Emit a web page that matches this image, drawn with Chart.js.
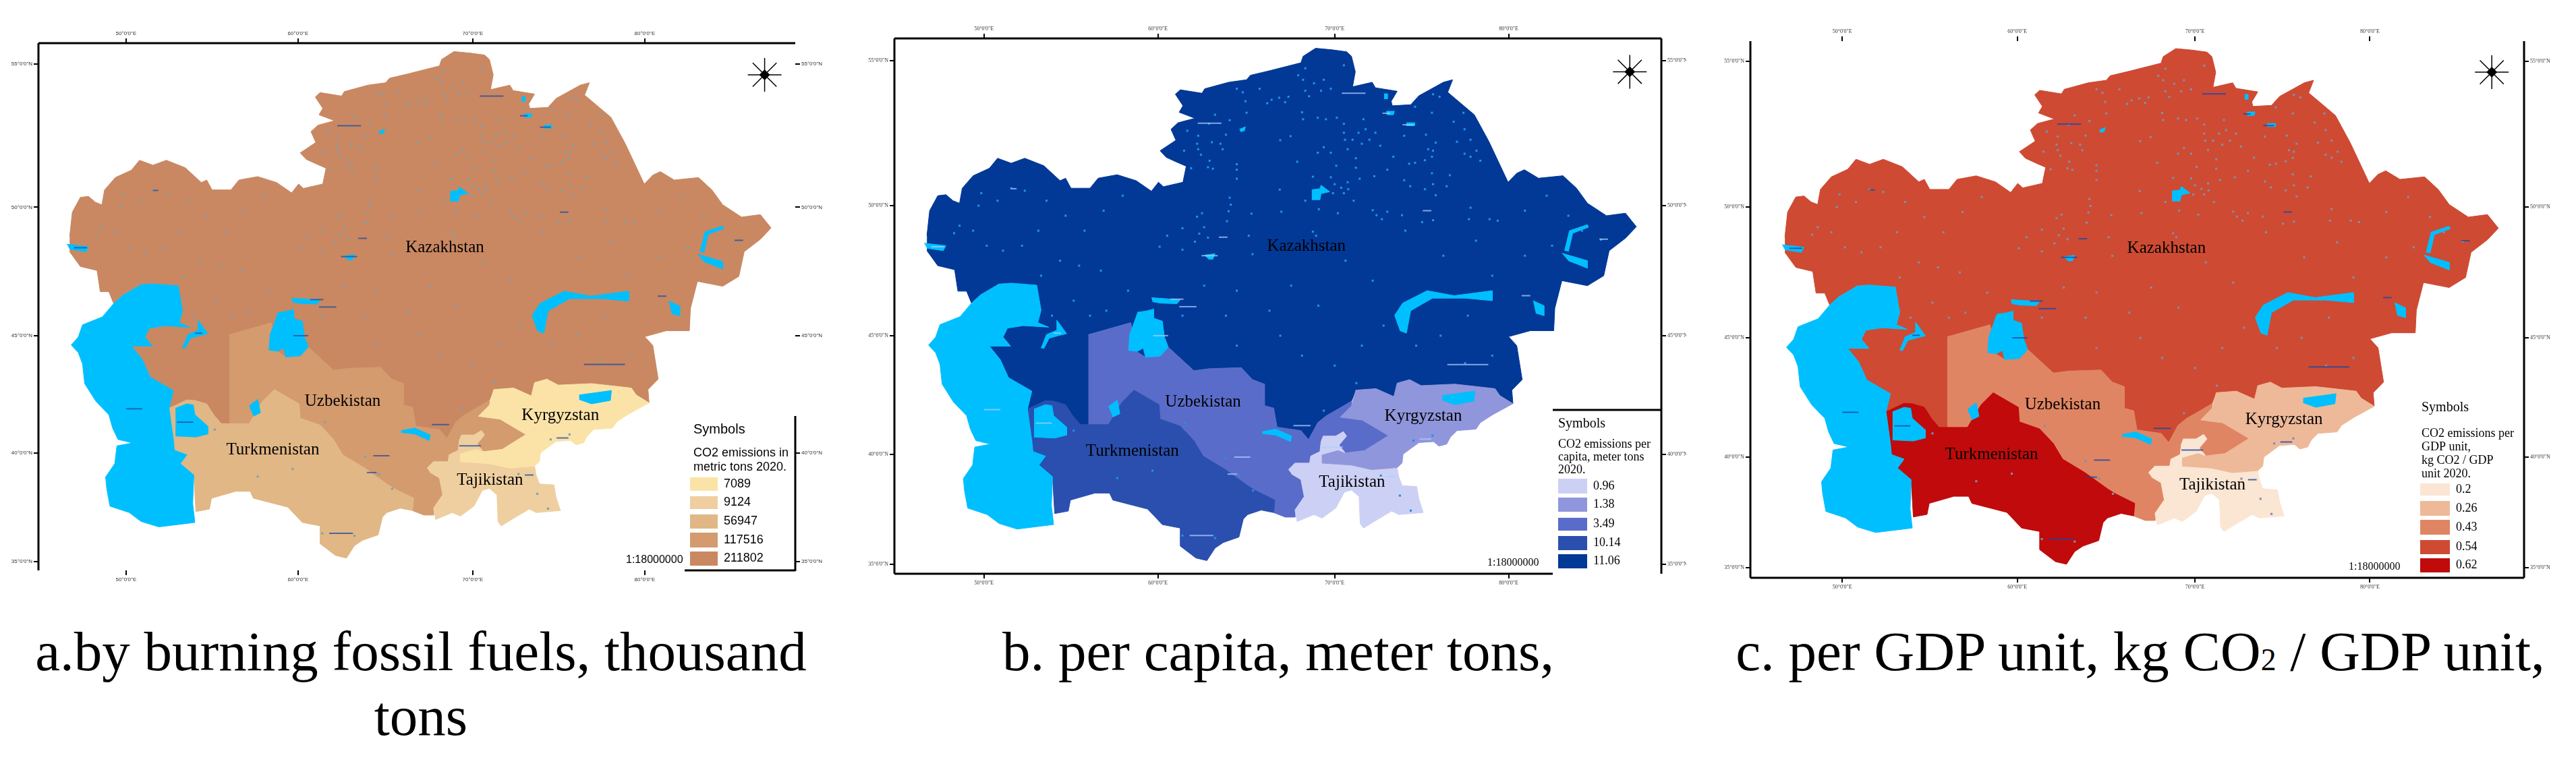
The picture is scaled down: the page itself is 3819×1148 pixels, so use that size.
<!DOCTYPE html>
<html>
<head>
<meta charset="utf-8">
<title>CO2 emissions, Central Asia</title>
<script src="https://cdn.jsdelivr.net/npm/chart.js@4"></script>
<style>
  html, body { margin: 0; padding: 0; background: #fff; }
  body { width: 3819px; height: 1148px; position: relative; overflow: hidden; }
  canvas { position: absolute; top: 0; filter: blur(0.7px); }
  .cap { position: absolute; text-align: center; color: #000; font-family: "Liberation Serif", serif; font-size: 83px; line-height: 96px; white-space: nowrap; }
  .cap span { font-size: 55%; }
</style>
</head>
<body>
<canvas id="mapA" width="1250" height="900" style="left:0"></canvas>
<canvas id="mapB" width="1250" height="900" style="left:1250px"></canvas>
<canvas id="mapC" width="1319" height="900" style="left:2500px"></canvas>
<div class="cap" style="left:24px;width:1200px;top:918px">a.by burning fossil fuels, thousand<br>tons</div>
<div class="cap" style="left:1295px;width:1200px;top:918px">b. per capita, meter tons,</div>
<div class="cap" style="left:2573px;width:1200px;top:918px">c. per GDP unit, kg CO<span>2</span> / GDP unit,</div>
<script>
// values per country, same order as the outlines below
var countries = ['Kazakhstan', 'Uzbekistan', 'Turkmenistan', 'Tajikistan', 'Kyrgyzstan'];
var fossilValues = [211802, 117516, 56947, 9124, 7089];
var capitaValues = [11.06, 3.49, 10.14, 0.96, 1.38];
var gdpValues = [0.54, 0.43, 0.62, 0.2, 0.26];

// graticule, in map units of the projection
var lonTicks = [235, 555, 880, 1200];
var lonLabels = ['50°0\'0"E', '60°0\'0"E', '70°0\'0"E', '80°0\'0"E'];
var latTicks = [130, 420, 680, 917, 1137];
var latLabels = ['55°0\'0"N', '50°0\'0"N', '45°0\'0"N', '40°0\'0"N', '35°0\'0"N'];

// outlines, map units (y grows southwards)
var kazakhstan = [[130,480],[135,430],[150,400],[165,398],[178,410],[190,415],[195,385],[215,360],[245,345],[260,325],[285,335],[310,325],[345,340],[375,370],[385,365],[395,385],[430,385],[445,365],[480,358],[515,370],[543,391],[556,373],[565,382],[601,373],[607,341],[588,332],[570,323],[559,310],[588,289],[579,267],[592,254],[623,245],[594,233],[601,220],[587,197],[596,188],[636,195],[641,186],[685,173],[718,168],[725,159],[760,150],[818,134],[822,121],[845,105],[875,108],[902,112],[911,121],[918,152],[913,182],[949,173],[955,184],[995,191],[984,211],[986,220],[1020,218],[1035,200],[1080,173],[1097,168],[1088,193],[1137,238],[1164,292],[1199,373],[1215,355],[1229,348],[1255,365],[1300,360],[1325,385],[1345,415],[1380,440],[1415,435],[1435,462],[1415,485],[1385,510],[1375,560],[1345,580],[1298,570],[1285,625],[1283,670],[1240,670],[1200,682],[1215,700],[1225,768],[1206,789],[1208,816],[1184,800],[1175,786],[1101,777],[1039,780],[1018,768],[995,775],[989,802],[956,786],[919,789],[911,811],[886,827],[865,840],[849,854],[832,888],[818,870],[774,863],[768,825],[751,820],[751,777],[729,768],[708,744],[650,746],[621,750],[574,703],[559,721],[532,723],[516,712],[505,654],[427,678],[427,858],[412,858],[398,840],[385,818],[363,811],[348,810],[315,827],[323,791],[280,764],[265,728],[245,701],[284,701],[270,683],[278,665],[307,660],[354,663],[334,654],[340,629],[332,579],[284,575],[261,577],[230,597],[212,615],[203,591],[187,591],[181,548],[150,540],[130,510]];
var uzbekistan = [[427,678],[505,654],[516,712],[532,723],[559,721],[574,703],[621,750],[650,746],[708,744],[729,768],[751,777],[751,820],[768,825],[774,863],[818,870],[832,888],[849,854],[865,840],[886,827],[911,811],[911,820],[890,843],[931,849],[979,880],[935,910],[898,915],[888,899],[902,881],[896,872],[882,881],[859,881],[855,892],[853,912],[836,921],[834,935],[807,935],[795,948],[801,957],[818,968],[824,1002],[807,1029],[807,1043],[789,1043],[768,1034],[770,1009],[733,989],[720,980],[679,948],[638,921],[621,890],[596,861],[559,847],[557,818],[511,789],[489,813],[464,858],[427,858]];
var turkmenistan = [[323,890],[315,827],[348,810],[363,811],[385,818],[398,840],[412,858],[427,858],[464,858],[489,813],[511,789],[557,818],[559,847],[596,861],[621,890],[638,921],[679,948],[720,980],[733,989],[770,1009],[768,1034],[745,1029],[720,1038],[712,1047],[704,1083],[675,1094],[660,1105],[645,1130],[625,1125],[596,1101],[596,1065],[563,1058],[536,1027],[472,1009],[466,995],[439,995],[394,1009],[390,1031],[365,1036],[361,962],[336,939],[348,921],[325,912]];
var tajikistan = [[795,948],[807,935],[834,935],[836,921],[853,912],[855,892],[859,881],[882,881],[896,872],[902,881],[888,899],[900,915],[857,919],[857,935],[911,939],[948,948],[995,944],[998,962],[1004,980],[1031,982],[1035,1007],[1043,1034],[998,1038],[985,1031],[960,1047],[933,1065],[927,1056],[925,1002],[911,989],[898,993],[882,1025],[857,1045],[842,1038],[811,1052],[807,1029],[824,1002],[818,968],[801,957]];
var kyrgyzstan = [[911,820],[919,789],[956,786],[989,802],[995,775],[1018,768],[1039,780],[1101,777],[1175,786],[1184,800],[1208,816],[1171,838],[1148,854],[1140,867],[1105,870],[1093,883],[1086,897],[1072,901],[1062,892],[1035,894],[1006,917],[1004,935],[995,944],[948,948],[911,939],[857,935],[857,919],[886,910],[898,915],[935,910],[979,880],[931,849],[890,843]];

// water
var caspian = [[261,577],[284,575],[332,579],[340,629],[334,654],[354,663],[307,660],[278,665],[270,683],[284,701],[245,701],[265,728],[280,764],[323,791],[315,827],[323,890],[325,912],[348,921],[336,939],[361,962],[359,1020],[363,1058],[296,1067],[263,1056],[241,1038],[205,1025],[199,989],[197,966],[214,939],[218,903],[247,897],[220,890],[210,867],[203,840],[179,813],[158,777],[154,737],[146,714],[133,699],[146,683],[154,658],[191,642],[212,615],[230,597]];
var karaBogaz = [[327,827],[348,818],[360,820],[363,840],[387,863],[387,879],[365,885],[327,883]];
var aral = [[501,710],[503,678],[518,633],[532,631],[547,627],[547,645],[563,651],[567,683],[574,703],[559,721],[532,723],[528,705],[516,712]];
var balkhash = [[990,640],[1005,615],[1050,590],[1100,600],[1170,590],[1170,610],[1120,605],[1060,605],[1020,630],[1012,675],[1000,670]];
var zaysan = [[1298,515],[1345,530],[1345,545],[1310,530]];
var irtysh = [[1303,510],[1312,470],[1345,458],[1347,463],[1318,475],[1310,512]];
var alakol = [[1245,610],[1265,620],[1265,640],[1250,635]];
var issykKul = [[1078,800],[1138,791],[1136,811],[1101,818],[1078,809]];
var tengiz = [[838,388],[853,386],[855,379],[871,392],[855,396],[853,408],[838,408]];
var sarygamysh = [[464,822],[480,809],[485,836],[472,843]];
var aydar = [[747,872],[772,867],[801,881],[799,892],[772,879],[747,876]];
var mangyshlakLake = [[340,705],[350,678],[369,669],[369,649],[387,676],[372,680],[355,685],[345,706]];
var uralMouth = [[125,495],[165,500],[160,510],[130,505]];
var northLakeA = [[975,231],[990,231],[988,238],[976,238]];
var northLakeB = [[1012,254],[1027,254],[1027,260],[1012,260]];
var northLakeC = [[971,196],[977,196],[977,206],[971,206]];
var northLakeD = [[705,267],[716,262],[714,270],[707,272]];
var midLake = [[640,519],[660,516],[656,527],[648,527]];
var syrLake = [[543,604],[596,608],[590,616],[560,615],[545,612]];
var lakes = [caspian, karaBogaz, aral, balkhash, zaysan, irtysh, alakol, issykKul, tengiz, sarygamysh, aydar, mangyshlakLake, uralMouth, northLakeA, northLakeB, northLakeC, northLakeD, midLake, syrLake];

var smallLakes = [[897,139],[826,145],[813,159],[822,168],[842,175],[860,168],[855,190],[873,186],[826,190],[833,201],[778,204],[764,208],[795,202],[789,213],[756,215],[742,186],[711,193],[700,186],[716,211],[718,234],[820,233],[849,244],[864,247],[822,247],[884,244],[933,247],[897,256],[937,267],[897,274],[924,274],[955,274],[899,288],[913,288],[944,288],[930,296],[964,300],[1008,280],[1048,278],[1066,294],[1052,307],[1061,310],[1059,322],[1046,329],[1028,334],[1017,336],[988,322],[919,325],[904,307],[873,314],[849,314],[860,303],[811,332],[700,337],[700,348],[700,366],[650,330],[647,343],[656,346],[616,345],[634,318],[629,307],[603,310],[627,296],[654,293],[670,296],[674,307],[680,278],[629,280],[609,270],[780,289],[799,281],[883,340],[919,344],[977,348],[1059,355],[1092,359],[1008,369],[1019,381],[1046,387],[1061,377],[1086,381],[1066,399],[926,366],[953,361],[904,373],[873,363],[840,362],[880,377],[892,384],[905,387],[877,395],[897,395],[915,410],[826,410],[851,427],[886,435],[782,432],[779,388],[950,429],[977,432],[957,439],[1004,439],[967,447],[1041,453],[1061,449],[1127,447],[1130,424],[1165,447],[1119,316],[1130,322],[1148,330],[1141,310],[1130,288],[1105,292],[1119,267],[1099,252],[1117,234],[1059,234],[1073,202],[1061,197],[1028,222],[687,404],[689,418],[685,431],[682,451],[727,436],[636,435],[627,442],[640,463],[600,465],[572,480],[631,476],[623,492],[647,484],[722,480],[840,472],[846,480],[558,502],[600,508],[729,517],[660,238],[687,249],[649,256],[490,400],[455,430],[420,470],[385,440],[350,410],[310,390],[285,385],[260,410],[230,395],[225,420],[190,460],[180,475],[215,470],[240,500],[270,510],[305,500],[335,470],[340,560],[375,530],[410,540],[450,550],[500,590],[460,630],[430,640],[400,610],[360,640],[600,640],[640,580],[700,590],[760,630],[800,580],[850,620],[900,530],[950,570],[1010,470],[1080,520],[1140,490],[1180,450],[1230,430],[1270,400],[1310,440],[1335,470],[1370,488],[1280,500],[1230,520],[1170,560],[1125,640],[1075,680],[1030,700],[970,660],[930,700],[880,740],[820,720],[780,680],[700,700],[680,640],[1120,735],[1170,720],[920,775],[860,830],[1025,890],[1060,880],[965,960],[1000,1000],[1020,1030],[705,960],[730,990],[680,925],[605,855],[545,950],[480,965],[660,1085],[600,1080],[400,870]];
// the tiny lake names on the map cannot be read, they are kept as dashes: x, y, half length
var lakeNames = [[915,195,22],[1015,258,10],[650,255,22],[650,520,15],[590,607,12],[610,622,16],[1125,738,38],[1050,430,8],[1232,600,8],[1375,487,8],[250,828,15],[345,855,15],[820,860,16],[875,903,20],[710,923,15],[692,957,9],[635,1080,22],[560,680,14],[370,675,7],[150,502,12],[1047,887,11],[985,962,8],[675,483,8],[290,386,5],[975,235,7]];
var compassPoint = [[1423,152]];
var labelPoints = [[828,502],[638,813],[508,912],[912,973],[1043,842]];

var symbolsTitle = 'Symbols';
var titleA = ['CO2 emissions in', 'metric tons 2020.'];
var titleB = ['CO2 emissions per', 'capita, meter tons', '2020.'];
var titleC = ['CO2 emissions per', 'GDP unit,', 'kg CO2 / GDP', 'unit 2020.'];
var classesA = ['7089', '9124', '56947', '117516', '211802'];
var classesB = ['0.96', '1.38', '3.49', '10.14', '11.06'];
var classesC = ['0.2', '0.26', '0.43', '0.54', '0.62'];
var scaleText = '1:18000000';

var coloursA = ['#fbe3a8', '#efcf9f', '#e1b785', '#d39b6e', '#c98862'];
var coloursB = ['#cdd0f5', '#8f96dc', '#5a6cc9', '#2a4fae', '#023896'];
var coloursC = ['#fbe5d3', '#eeb999', '#e08563', '#ce4a33', '#c00a0b'];

function pts(list) {
  return list.map(function (p) { return { x: p[0], y: p[1] }; });
}

function classColour(values, colours, i) {
  var sorted = values.slice().sort(function (a, b) { return a - b; });
  return colours[sorted.indexOf(values[i])];
}

function polygon(list, colour) {
  return {
    type: 'scatter', data: pts(list), showLine: true, fill: 'shape',
    backgroundColor: colour, borderColor: colour, borderWidth: 1,
    tension: 0, pointRadius: 0, pointHoverRadius: 0
  };
}

// frame pieces, legend and map texts, drawn over the datasets
var mapExtras = {
  id: 'mapExtras',
  afterDatasetsDraw: function (chart, args, o) {
    var ctx = chart.ctx, sx = chart.scales.x, sy = chart.scales.y;
    ctx.save();
    ctx.strokeStyle = '#000';
    ctx.lineWidth = 3;
    o.frame.forEach(function (l) {
      ctx.beginPath();
      ctx.moveTo(l[0], l[1]);
      ctx.lineTo(l[2], l[3]);
      ctx.stroke();
    });
    ctx.fillStyle = '#000';
    ctx.textBaseline = 'middle';
    ctx.textAlign = 'center';
    ctx.font = '25px "Liberation Serif"';
    countries.forEach(function (c, i) {
      ctx.fillText(c, sx.getPixelForValue(labelPoints[i][0]), sy.getPixelForValue(labelPoints[i][1]));
    });
    ctx.textAlign = 'left';
    ctx.font = '20px ' + o.font;
    ctx.fillText(symbolsTitle, o.symbols[0], o.symbols[1]);
    ctx.font = o.titleSize + 'px ' + o.font;
    o.title.forEach(function (t, i) { ctx.fillText(t, o.symbols[0], o.titleY[i]); });
    ctx.font = '16px ' + o.font;
    ctx.fillText(scaleText, o.scaleAt[0], o.scaleAt[1]);
    o.classes.forEach(function (t, i) {
      var r = o.rows[i];
      ctx.fillStyle = o.colours[i];
      ctx.fillRect(o.swatchX, r[0], o.swatchW, r[1] - r[0]);
      ctx.fillStyle = '#000';
      ctx.font = '18px ' + o.font;
      ctx.fillText(t, o.swatchX + o.swatchW + 9, (r[0] + r[1]) / 2);
    });
    ctx.restore();
  }
};

function tickAxis(position, vals, labels, range, size, font) {
  var horizontal = position === 'top' || position === 'bottom';
  return {
    type: 'linear', position: position, axis: horizontal ? 'x' : 'y',
    reverse: !horizontal,
    min: range[0], max: range[1],
    border: { display: false },
    grid: { drawOnChartArea: false, drawTicks: true, tickLength: 7, color: '#000', lineWidth: 2 },
    afterBuildTicks: function (s) { s.ticks = vals.map(function (v) { return { value: v }; }); },
    afterFit: function (s) { if (horizontal) s.height = size; else s.width = size; },
    ticks: {
      autoSkip: false, maxRotation: 0, minRotation: 0, padding: 2, color: '#333',
      font: { size: 8, family: font },
      callback: function (v) { return labels[vals.indexOf(v)]; }
    }
  };
}

function makeMap(id, p) {
  var sets = [];
  [kazakhstan, uzbekistan, turkmenistan, tajikistan, kyrgyzstan].forEach(function (list, i) {
    sets.push(polygon(list, classColour(p.values, p.colours, i)));
  });
  lakes.forEach(function (l) { sets.push(polygon(l, '#00bfff')); });
  sets.push({ type: 'scatter', data: pts(smallLakes), pointStyle: 'rect', pointRadius: 2.2, pointBorderWidth: 0, pointBackgroundColor: p.speck });
  sets.push({
    type: 'scatter', data: pts(lakeNames), pointStyle: 'line',
    pointRadius: lakeNames.map(function (d) { return d[2] * 0.8; }),
    pointBorderWidth: 2, pointBorderColor: p.names, pointBackgroundColor: p.names
  });
  sets.push({ type: 'scatter', data: pts(compassPoint), pointStyle: 'star', pointRadius: 25, pointBorderWidth: 1.5, pointBorderColor: '#000' });
  sets.push({ type: 'scatter', data: pts(compassPoint), pointStyle: 'rectRot', pointRadius: 8, pointBorderWidth: 0, pointBackgroundColor: '#000' });
  sets.forEach(function (s, i) { s.order = sets.length - i; });

  new Chart(document.getElementById(id), {
    type: 'scatter',
    data: { datasets: sets },
    plugins: [mapExtras],
    options: {
      responsive: false,
      animation: false,
      layout: { padding: 0 },
      events: [],
      scales: {
        x: tickAxis('bottom', lonTicks, lonLabels, p.xRange, p.bottom, p.font),
        x2: tickAxis('top', lonTicks, lonLabels, p.xRange, p.top, p.font),
        y: tickAxis('left', latTicks, latLabels, p.yRange, p.left, p.font),
        y2: tickAxis('right', latTicks, latLabels, p.yRange, p.right, p.font)
      },
      plugins: {
        legend: { display: false },
        tooltip: { enabled: false },
        mapExtras: p.extras
      }
    }
  });
}

makeMap('mapA', {
  values: fossilValues, colours: coloursA, speck: '#7ea1ad', names: 'rgba(42,79,159,0.8)', font: '"Liberation Sans"',
  xRange: [72, 1480], yRange: [88, 1155], left: 57, right: 71, top: 64, bottom: 54,
  extras: {
    font: '"Liberation Sans"', colours: coloursA, classes: classesA, title: titleA, titleSize: 18,
    frame: [[57, 64, 1179, 64], [57, 64, 57, 846], [1179, 617, 1179, 847], [1015, 846, 1179, 846]],
    symbols: [1028, 637], titleY: [672, 693], scaleAt: [928, 831],
    swatchX: 1023, swatchW: 41, rows: [[708, 728], [736, 755], [763, 784], [790, 812], [818, 839]]
  }
});
makeMap('mapB', {
  values: capitaValues, colours: coloursB, speck: '#1e90ee', names: 'rgba(170,205,255,0.75)', font: '"Liberation Serif"',
  xRange: [70.2, 1481], yRange: [85.3, 1156.4], left: 76, right: 37, top: 57, bottom: 49,
  extras: {
    font: '"Liberation Serif"', colours: coloursB, classes: classesB, title: titleB, titleSize: 18,
    frame: [[76, 57, 1213, 57], [76, 57, 76, 851], [1213, 57, 1213, 851], [76, 851, 1052, 851], [1052, 608, 1213, 608]],
    symbols: [1060, 629], titleY: [659, 678, 697], scaleAt: [955, 835],
    swatchX: 1060, swatchW: 43, rows: [[710, 732], [738, 759], [768, 787], [795, 816], [822, 843]]
  }
});
makeMap('mapC', {
  values: gdpValues, colours: coloursC, speck: '#7f8fa8', names: 'rgba(26,71,168,0.8)', font: '"Liberation Serif"',
  xRange: [66.9, 1482], yRange: [90.2, 1157], left: 95, right: 77, top: 61, bottom: 43,
  extras: {
    font: '"Liberation Serif"', colours: coloursC, classes: classesC, title: titleC, titleSize: 18,
    frame: [[95, 61, 95, 857], [1242, 61, 1242, 857], [95, 857, 1242, 857]],
    symbols: [1090, 605], titleY: [643, 663, 683, 703], scaleAt: [982, 841],
    swatchX: 1088, swatchW: 44, rows: [[717, 735], [743, 765], [771, 793], [801, 822], [828, 849]]
  }
});
</script>
</body>
</html>
